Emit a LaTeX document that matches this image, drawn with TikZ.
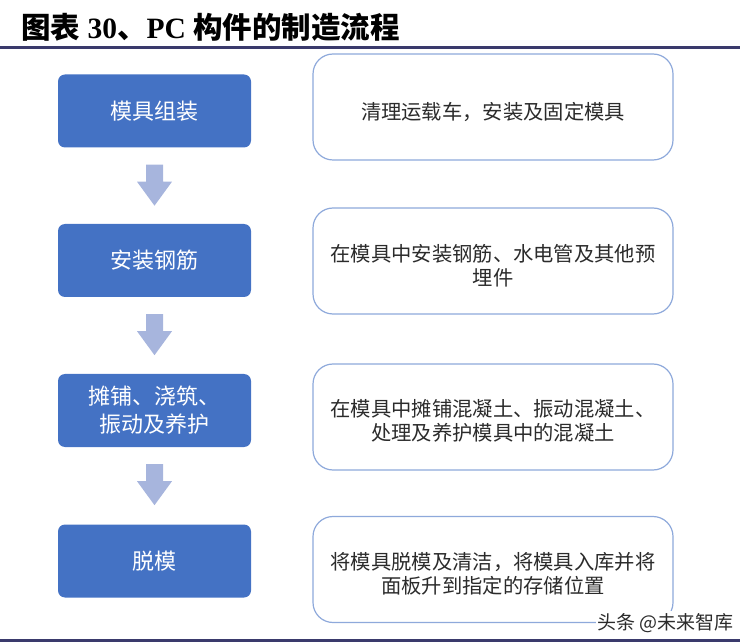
\documentclass[tikz,border=0pt]{standalone}
\usepackage{fontspec}
\setmainfont{Liberation Serif}
\newfontfamily\cjk{Noto Sans CJK SC}
\usetikzlibrary{calc}
\definecolor{boxblue}{HTML}{4472C4}
\definecolor{arrowblue}{HTML}{A7B5DD}
\definecolor{edgeblue}{HTML}{8EA9DB}
\definecolor{rulenavy}{HTML}{3A3A6C}
\definecolor{textgray}{HTML}{2B2B2B}
\tikzset{
  stepbox/.style={fill=boxblue, draw=none, rounded corners=7pt, minimum width=193pt, minimum height=73pt,
    text=white, align=center, font=\cjk\fontsize{22}{28}\selectfont, inner sep=0pt},
  descbox/.style={draw=edgeblue, line width=1.2pt, fill=white, rounded corners=20pt, minimum width=360pt, minimum height=106pt, inner sep=0pt},
  desctext/.style={text=textgray, align=center, font=\cjk\fontsize{20.3}{24}\selectfont, inner sep=0pt},
  rule/.style={draw=rulenavy, line width=3pt}
}
\newcommand\blockarrow[1]{%
  \fill[arrowblue] ($(#1.south)+(-8.5,17)$) -- ($(#1.south)+(8.5,17)$) -- ($(#1.south)+(8.5,34)$)
   -- ($(#1.south)+(17.5,34)$) -- ($(#1.south)+(0,58)$) -- ($(#1.south)+(-17.5,34)$)
   -- ($(#1.south)+(-8.5,34)$) -- cycle;}
\begin{document}
\begin{tikzpicture}[x=1pt,y=-1pt]
\useasboundingbox (0,0) rectangle (750,644);
% title
\node[anchor=west, inner sep=0pt, font=\fontsize{29.5}{29.5}\selectfont\bfseries] (title) at (21,27)
  {{\cjk 图表}\ 30{\cjk 、}PC\ {\cjk 构件的制造流程}};
\coordinate (tl) at (0,47.5);
\coordinate (tr) at (740,47.5);
\draw[rule] (tl) -- (tr);
\coordinate (bl) at (0,640);
\coordinate (br) at (740,640);
\draw[rule] (bl) -- (br);
% left steps
\node[stepbox] (l1) at (154.5,111) {模具组装};
\node[stepbox] (l2) at (154.5,260.5) {安装钢筋};
\node[stepbox] (l3) at (154.5,410.5) {摊铺、浇筑、\\振动及养护};
\node[stepbox] (l4) at (154.5,561) {脱模};
\blockarrow{l1}
\blockarrow{l2}
\blockarrow{l3}
% right descriptions
\node[descbox] (r1) at (493,107) {};
\node[descbox] (r2) at (493,261) {};
\node[descbox] (r3) at (493,417) {};
\node[descbox] (r4) at (493,569.5) {};
\node[desctext] (t1) at ($(r1.center)+(0,5)$) {清理运载车，安装及固定模具};
\node[desctext] (t2) at ($(r2.center)+(0,5)$) {在模具中安装钢筋、水电管及其他预\\埋件};
\node[desctext] (t3) at ($(r3.center)+(0,4)$) {在模具中摊铺混凝土、振动混凝土、\\处理及养护模具中的混凝土};
\node[desctext] (t4) at ($(r4.center)+(0,4)$) {将模具脱模及清洁，将模具入库并将\\面板升到指定的存储位置};
% watermark
\node[fill=white, inner sep=2pt, anchor=east, text=textgray, font=\cjk\fontsize{19}{19}\selectfont] (wm) at (736,623) {头条 @未来智库};
\end{tikzpicture}
\end{document}
